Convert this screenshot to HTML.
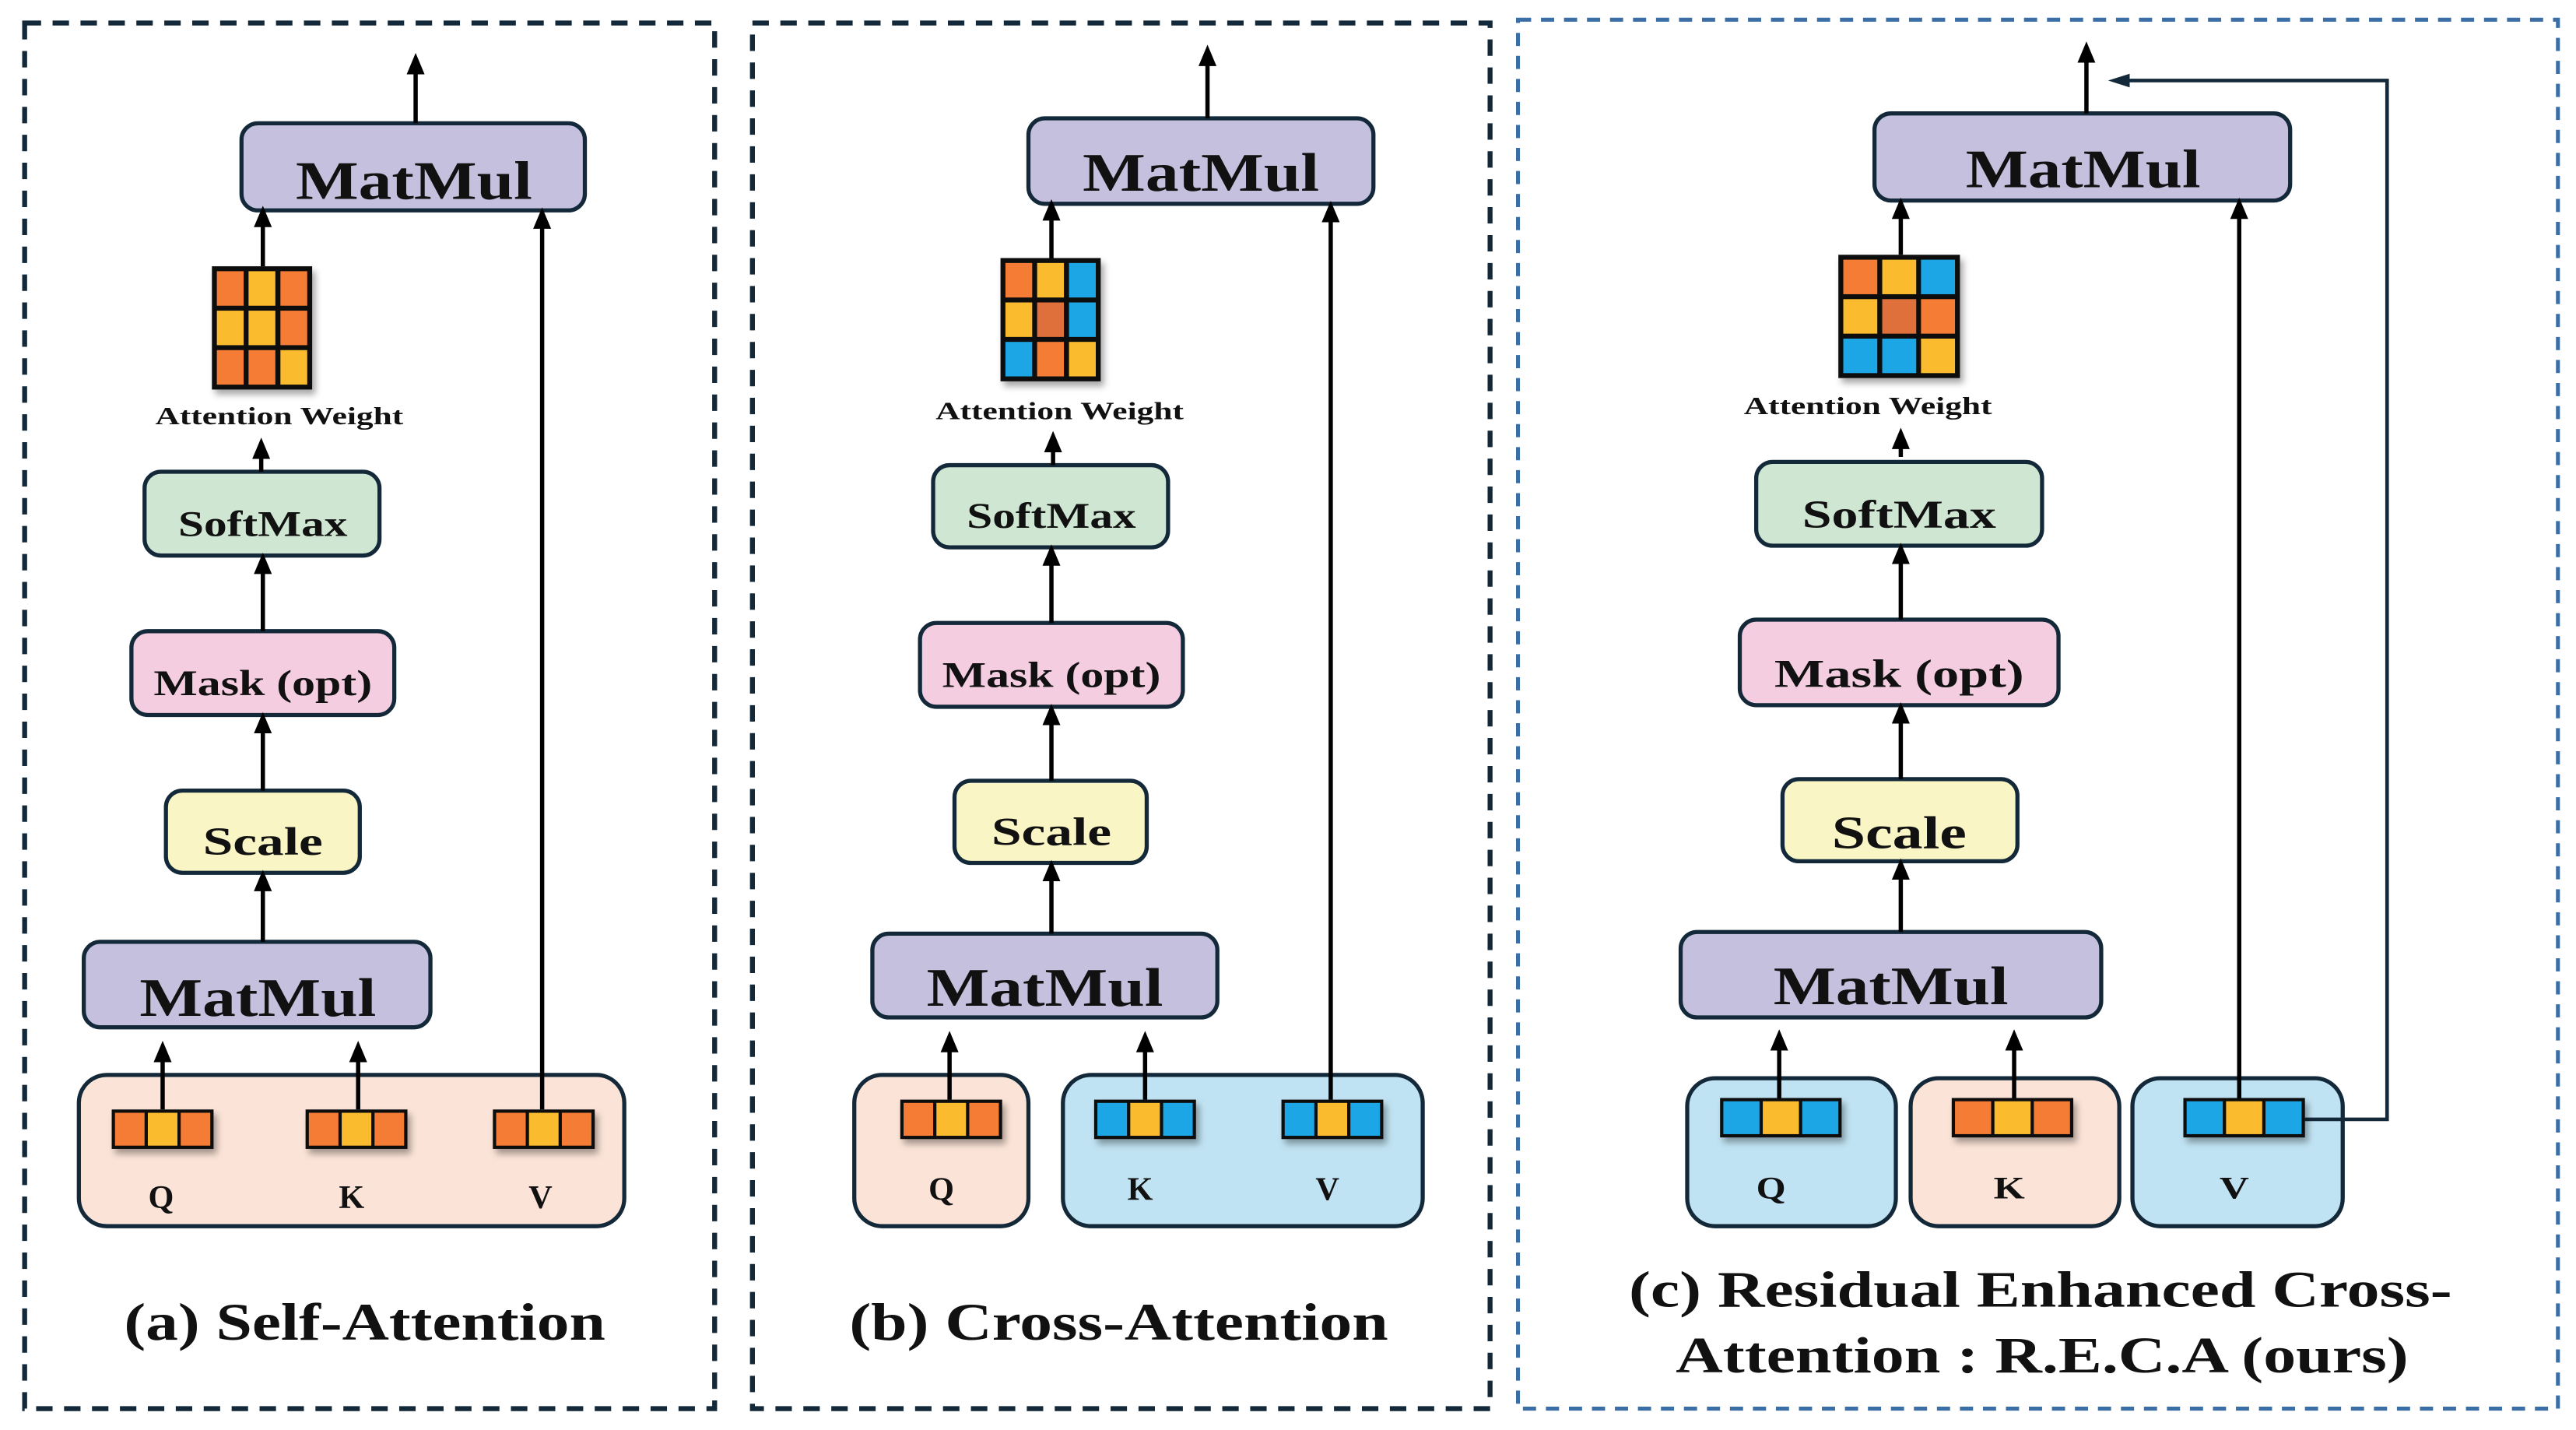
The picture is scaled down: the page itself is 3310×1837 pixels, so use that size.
<!DOCTYPE html>
<html><head><meta charset="utf-8">
<style>
html,body{margin:0;padding:0;background:#fff;}
svg{display:block;}
text{font-family:"Liberation Serif","Times New Roman",serif;font-weight:bold;fill:#111;}
</style></head>
<body>
<svg width="3310" height="1837" viewBox="0 0 1568 870" preserveAspectRatio="none" xmlns="http://www.w3.org/2000/svg">
<defs>
<marker id="ah" markerWidth="5" markerHeight="5" refX="2" refY="2.5" orient="auto" markerUnits="strokeWidth">
<path d="M0,0.4 L5,2.5 L0,4.6 Z" fill="#000"/>
</marker>
<marker id="ah2" markerWidth="6" markerHeight="5" refX="2" refY="2.5" orient="auto" markerUnits="strokeWidth">
<path d="M0,0.6 L6,2.5 L0,4.4 Z" fill="#13293a"/>
</marker>
<filter id="sh" x="-20%" y="-20%" width="150%" height="160%"><feDropShadow dx="2" dy="3" stdDeviation="2" flood-color="#000" flood-opacity="0.35"/></filter>
</defs>

<rect x="15" y="14" width="420" height="843" fill="none" stroke="#13293a" stroke-width="3" stroke-dasharray="10,7"/>
<rect x="458" y="14" width="449" height="843" fill="none" stroke="#13293a" stroke-width="3" stroke-dasharray="10,7"/>
<rect x="924" y="12" width="633" height="845" fill="none" stroke="#3a6ea5" stroke-width="2.4" stroke-dasharray="8,6"/>

<g stroke="#13293a" stroke-width="2.5">
<rect x="147" y="75" width="209" height="53" rx="10" fill="#c4c0dd"/>
<rect x="88" y="287" width="143" height="51" rx="10" fill="#cfe6d3"/>
<rect x="80" y="384" width="160" height="51" rx="10" fill="#f5cde0"/>
<rect x="101" y="481" width="118" height="50" rx="10" fill="#f9f5c5"/>
<rect x="51" y="573" width="211" height="52" rx="10" fill="#c4c0dd"/>
<rect x="48" y="654" width="332" height="92" rx="17" fill="#fbe3d7"/>
<rect x="626" y="72" width="210" height="52" rx="10" fill="#c4c0dd"/>
<rect x="568" y="283" width="143" height="50" rx="10" fill="#cfe6d3"/>
<rect x="560" y="379" width="160" height="51" rx="10" fill="#f5cde0"/>
<rect x="581" y="475" width="117" height="50" rx="10" fill="#f9f5c5"/>
<rect x="531" y="568" width="210" height="51" rx="10" fill="#c4c0dd"/>
<rect x="520" y="654" width="106" height="92" rx="17" fill="#fbe3d7"/>
<rect x="647" y="654" width="219" height="92" rx="17" fill="#c0e3f3"/>
<rect x="1141" y="69" width="253" height="53" rx="10" fill="#c4c0dd"/>
<rect x="1069" y="281" width="174" height="51" rx="10" fill="#cfe6d3"/>
<rect x="1059" y="377" width="194" height="52" rx="10" fill="#f5cde0"/>
<rect x="1085" y="474" width="143" height="50" rx="10" fill="#f9f5c5"/>
<rect x="1023" y="567" width="256" height="52" rx="10" fill="#c4c0dd"/>
<rect x="1027" y="656" width="127" height="90" rx="17" fill="#c0e3f3"/>
<rect x="1163" y="656" width="127" height="90" rx="17" fill="#fbe3d7"/>
<rect x="1298" y="656" width="128" height="90" rx="17" fill="#c0e3f3"/>
</g>

<g stroke="#000" stroke-width="2.6" fill="none" marker-end="url(#ah)">
<line x1="253" y1="75" x2="253" y2="40"/>
<line x1="160" y1="162" x2="160" y2="133"/>
<line x1="159" y1="287" x2="159" y2="274"/>
<line x1="160" y1="384" x2="160" y2="344"/>
<line x1="160" y1="481" x2="160" y2="441"/>
<line x1="160" y1="573" x2="160" y2="537"/>
<line x1="99" y1="675" x2="99" y2="641"/>
<line x1="218" y1="675" x2="218" y2="641"/>
<line x1="330" y1="675" x2="330" y2="134"/>

<line x1="735" y1="72" x2="735" y2="35"/>
<line x1="640" y1="157" x2="640" y2="129"/>
<line x1="641" y1="283" x2="641" y2="270"/>
<line x1="640" y1="379" x2="640" y2="339"/>
<line x1="640" y1="475" x2="640" y2="436"/>
<line x1="640" y1="568" x2="640" y2="531"/>
<line x1="578" y1="669" x2="578" y2="635"/>
<line x1="697" y1="669" x2="697" y2="635"/>
<line x1="810" y1="669" x2="810" y2="130"/>

<line x1="1270" y1="69" x2="1270" y2="33"/>
<line x1="1157" y1="155" x2="1157" y2="128"/>
<line x1="1157" y1="278" x2="1157" y2="268"/>
<line x1="1157" y1="377" x2="1157" y2="338"/>
<line x1="1157" y1="474" x2="1157" y2="435"/>
<line x1="1157" y1="567" x2="1157" y2="530"/>
<line x1="1083" y1="668" x2="1083" y2="634"/>
<line x1="1226" y1="668" x2="1226" y2="634"/>
<line x1="1363" y1="668" x2="1363" y2="128"/>
</g>
<polyline points="1403,681 1453,681 1453,49 1292,49" fill="none" stroke="#13293a" stroke-width="2.2" marker-end="url(#ah2)"/>

<g filter="url(#sh)">
<rect x="129" y="162" width="61" height="75" fill="#111"/>
<rect x="132" y="165" width="16.3" height="21" fill="#f47b35"/><rect x="151.3" y="165" width="16.3" height="21" fill="#fbbb2f"/><rect x="170.7" y="165" width="16.3" height="21" fill="#f47b35"/>
<rect x="132" y="189" width="16.3" height="21" fill="#fbbb2f"/><rect x="151.3" y="189" width="16.3" height="21" fill="#fbbb2f"/><rect x="170.7" y="189" width="16.3" height="21" fill="#f47b35"/>
<rect x="132" y="213" width="16.3" height="21" fill="#f47b35"/><rect x="151.3" y="213" width="16.3" height="21" fill="#f47b35"/><rect x="170.7" y="213" width="16.3" height="21" fill="#fbbb2f"/>
</g>
<g filter="url(#sh)">
<rect x="609" y="157" width="61" height="75" fill="#111"/>
<rect x="612" y="160" width="16.3" height="21" fill="#f47b35"/><rect x="631.3" y="160" width="16.3" height="21" fill="#fbbb2f"/><rect x="650.7" y="160" width="16.3" height="21" fill="#1ea6e6"/>
<rect x="612" y="184" width="16.3" height="21" fill="#fbbb2f"/><rect x="631.3" y="184" width="16.3" height="21" fill="#e0703a"/><rect x="650.7" y="184" width="16.3" height="21" fill="#1ea6e6"/>
<rect x="612" y="208" width="16.3" height="21" fill="#1ea6e6"/><rect x="631.3" y="208" width="16.3" height="21" fill="#f47b35"/><rect x="650.7" y="208" width="16.3" height="21" fill="#fbbb2f"/>
</g>
<g filter="url(#sh)">
<rect x="1119" y="155" width="74" height="75" fill="#111"/>
<rect x="1122" y="158" width="20.7" height="21" fill="#f47b35"/><rect x="1145.7" y="158" width="20.7" height="21" fill="#fbbb2f"/><rect x="1169.3" y="158" width="20.7" height="21" fill="#1ea6e6"/>
<rect x="1122" y="182" width="20.7" height="21" fill="#fbbb2f"/><rect x="1145.7" y="182" width="20.7" height="21" fill="#e0703a"/><rect x="1169.3" y="182" width="20.7" height="21" fill="#f47b35"/>
<rect x="1122" y="206" width="20.7" height="21" fill="#1ea6e6"/><rect x="1145.7" y="206" width="20.7" height="21" fill="#1ea6e6"/><rect x="1169.3" y="206" width="20.7" height="21" fill="#fbbb2f"/>
</g>

<g filter="url(#sh)">
<rect x="68" y="675" width="62" height="24" fill="#111"/><rect x="70" y="677" width="18" height="20" fill="#f47b35"/><rect x="90" y="677" width="18" height="20" fill="#fbbb2f"/><rect x="110" y="677" width="18" height="20" fill="#f47b35"/>
<rect x="186" y="675" width="62" height="24" fill="#111"/><rect x="188" y="677" width="18" height="20" fill="#f47b35"/><rect x="208" y="677" width="18" height="20" fill="#fbbb2f"/><rect x="228" y="677" width="18" height="20" fill="#f47b35"/>
<rect x="300" y="675" width="62" height="24" fill="#111"/><rect x="302" y="677" width="18" height="20" fill="#f47b35"/><rect x="322" y="677" width="18" height="20" fill="#fbbb2f"/><rect x="342" y="677" width="18" height="20" fill="#f47b35"/>
<rect x="548" y="669" width="62" height="24" fill="#111"/><rect x="550" y="671" width="18" height="20" fill="#f47b35"/><rect x="570" y="671" width="18" height="20" fill="#fbbb2f"/><rect x="590" y="671" width="18" height="20" fill="#f47b35"/>
<rect x="666" y="669" width="62" height="24" fill="#111"/><rect x="668" y="671" width="18" height="20" fill="#1ea6e6"/><rect x="688" y="671" width="18" height="20" fill="#fbbb2f"/><rect x="708" y="671" width="18" height="20" fill="#1ea6e6"/>
<rect x="780" y="669" width="62" height="24" fill="#111"/><rect x="782" y="671" width="18" height="20" fill="#1ea6e6"/><rect x="802" y="671" width="18" height="20" fill="#fbbb2f"/><rect x="822" y="671" width="18" height="20" fill="#1ea6e6"/>
<rect x="1047" y="668" width="74" height="24" fill="#111"/><rect x="1049" y="670" width="22" height="20" fill="#1ea6e6"/><rect x="1073" y="670" width="22" height="20" fill="#fbbb2f"/><rect x="1097" y="670" width="22" height="20" fill="#1ea6e6"/>
<rect x="1188" y="668" width="74" height="24" fill="#111"/><rect x="1190" y="670" width="22" height="20" fill="#f47b35"/><rect x="1214" y="670" width="22" height="20" fill="#fbbb2f"/><rect x="1238" y="670" width="22" height="20" fill="#f47b35"/>
<rect x="1329" y="668" width="74" height="24" fill="#111"/><rect x="1331" y="670" width="22" height="20" fill="#1ea6e6"/><rect x="1355" y="670" width="22" height="20" fill="#fbbb2f"/><rect x="1379" y="670" width="22" height="20" fill="#1ea6e6"/>
</g>

<g text-anchor="middle">
<text x="252" y="121" font-size="33" textLength="144" lengthAdjust="spacingAndGlyphs">MatMul</text>
<text x="170" y="258" font-size="15" textLength="151" lengthAdjust="spacingAndGlyphs">Attention Weight</text>
<text x="160" y="326" font-size="22" textLength="103" lengthAdjust="spacingAndGlyphs">SoftMax</text>
<text x="160" y="423" font-size="22" textLength="133" lengthAdjust="spacingAndGlyphs">Mask (opt)</text>
<text x="160" y="520" font-size="24" textLength="73" lengthAdjust="spacingAndGlyphs">Scale</text>
<text x="157" y="618" font-size="33" textLength="144" lengthAdjust="spacingAndGlyphs">MatMul</text>
<text x="98" y="735" font-size="20">Q</text>
<text x="214" y="735" font-size="20">K</text>
<text x="329" y="735" font-size="20">V</text>
<text x="222" y="815" font-size="32" textLength="293" lengthAdjust="spacingAndGlyphs">(a) Self-Attention</text>

<text x="731" y="116" font-size="33" textLength="144" lengthAdjust="spacingAndGlyphs">MatMul</text>
<text x="645" y="255" font-size="15" textLength="151" lengthAdjust="spacingAndGlyphs">Attention Weight</text>
<text x="640" y="321" font-size="22" textLength="103" lengthAdjust="spacingAndGlyphs">SoftMax</text>
<text x="640" y="418" font-size="22" textLength="133" lengthAdjust="spacingAndGlyphs">Mask (opt)</text>
<text x="640" y="514" font-size="24" textLength="73" lengthAdjust="spacingAndGlyphs">Scale</text>
<text x="636" y="612" font-size="33" textLength="144" lengthAdjust="spacingAndGlyphs">MatMul</text>
<text x="573" y="730" font-size="20">Q</text>
<text x="694" y="730" font-size="20">K</text>
<text x="808" y="730" font-size="20">V</text>
<text x="681" y="815" font-size="32" textLength="328" lengthAdjust="spacingAndGlyphs">(b) Cross-Attention</text>

<text x="1268" y="114" font-size="33" textLength="143" lengthAdjust="spacingAndGlyphs">MatMul</text>
<text x="1137" y="252" font-size="15" textLength="151" lengthAdjust="spacingAndGlyphs">Attention Weight</text>
<text x="1156" y="321" font-size="24" textLength="118" lengthAdjust="spacingAndGlyphs">SoftMax</text>
<text x="1156" y="418" font-size="24" textLength="152" lengthAdjust="spacingAndGlyphs">Mask (opt)</text>
<text x="1156" y="516" font-size="28" textLength="82" lengthAdjust="spacingAndGlyphs">Scale</text>
<text x="1151" y="611" font-size="33" textLength="143" lengthAdjust="spacingAndGlyphs">MatMul</text>
<text x="1078" y="729" font-size="19" textLength="18" lengthAdjust="spacingAndGlyphs">Q</text>
<text x="1223" y="729" font-size="19" textLength="19" lengthAdjust="spacingAndGlyphs">K</text>
<text x="1360" y="729" font-size="19" textLength="18" lengthAdjust="spacingAndGlyphs">V</text>
<text x="1242" y="795" font-size="31" textLength="501" lengthAdjust="spacingAndGlyphs">(c) Residual Enhanced Cross-</text>
<text x="1243" y="835" font-size="31" textLength="446" lengthAdjust="spacingAndGlyphs">Attention : R.E.C.A (ours)</text>
</g>
</svg>
</body></html>
